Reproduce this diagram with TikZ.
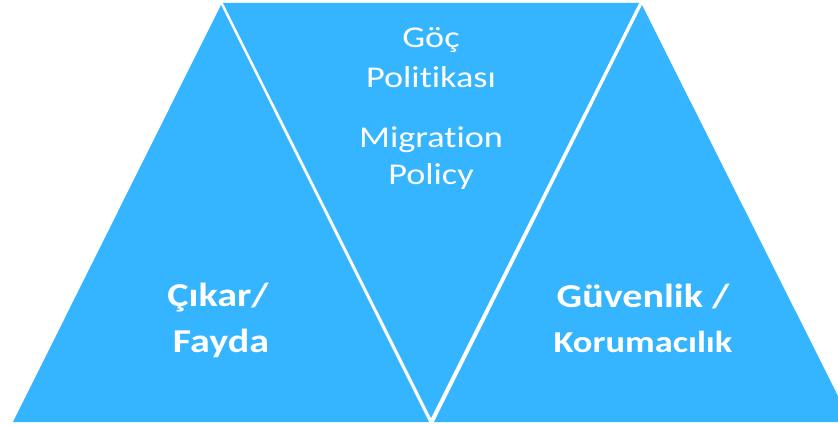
\documentclass[tikz,border=0pt]{standalone}
\usepackage{fontspec}
\usepackage{graphicx}
\setmainfont{Carlito}[Ligatures={NoCommon}]
\definecolor{triblue}{RGB}{53,181,255}
\tikzset{
  tri/.style={fill=triblue, draw=none},
  lbl/.style={text=white, inner sep=0pt, anchor=base},
  reg/.style={lbl, font=\fontsize{30.2}{36}\selectfont},
  bld/.style={lbl, font=\fontsize{33.4}{40}\selectfont\bfseries},
  bldsmall/.style={lbl, font=\fontsize{30.4}{36}\selectfont\bfseries}
}
\newcommand{\wide}[1]{\scalebox{1.2}[1]{#1}}
\begin{document}
\begin{tikzpicture}[x=1pt,y=-1pt]
\useasboundingbox (0,0) rectangle (838,425);
\clip (0,0) rectangle (838,425);
\fill[white] (0,0) rectangle (838,425);
% triangles
\path[tri] (221,5) -- (13,422) -- (429,422) -- cycle;
\path[tri] (223,3) -- (639,3) -- (431,418) -- cycle;
\path[tri] (642,5) -- (434,422) -- (851,422) -- cycle;
% middle text
\node[reg] (goc) at (431,48) {\wide{Göç}};
\node[reg] (politikasi) at (431,88) {\wide{Politikası}};
\node[reg] (migration) at (431,147) {\wide{Migration}};
\node[reg] (policy) at (431,185) {\wide{Policy}};
% left text
\node[bld] (cikar) at (218,306) {\wide{Çıkar/}};
\node[bld] (fayda) at (221,352) {\wide{Fayda}};
% right text
\node[bld] (guvenlik) at (643,307) {\wide{Güvenlik /}};
\node[bldsmall] (korumacilik) at (643,352) {\wide{Korumacılık}};
\end{tikzpicture}
\end{document}
